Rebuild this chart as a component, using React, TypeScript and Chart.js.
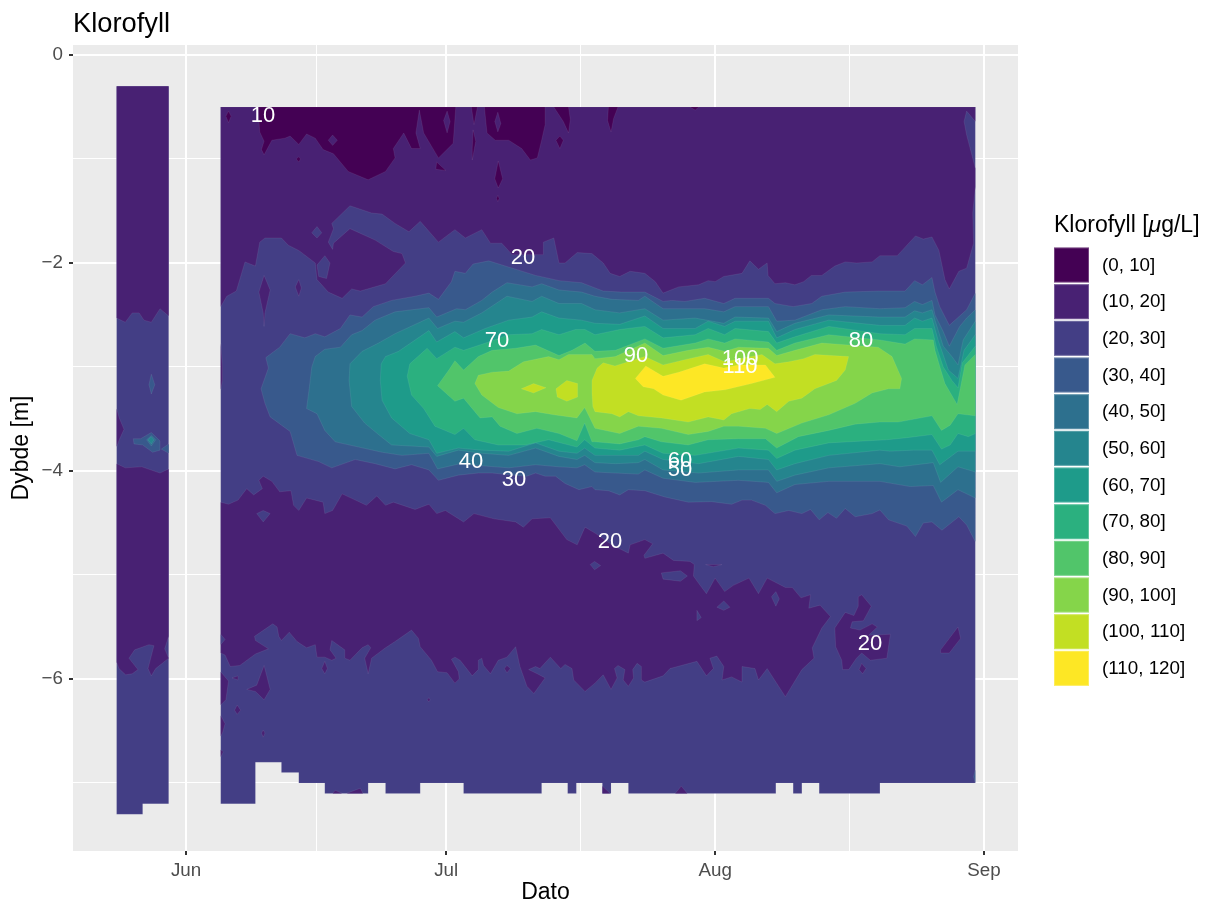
import React, { useEffect, useRef } from "react";
import { Chart, registerables } from "chart.js";

Chart.register(...registerables);

type Poly = number[][];

const FONT = '"Liberation Sans", Helvetica, Arial, sans-serif';

const legendLabels = ["(0, 10]", "(10, 20]", "(20, 30]", "(30, 40]", "(40, 50]", "(50, 60]", "(60, 70]", "(70, 80]", "(80, 90]", "(90, 100]", "(100, 110]", "(110, 120]"];
const bandColors = ["#440154", "#482173", "#433E85", "#38598C", "#2D708E", "#25858E", "#1E9B8A", "#2BB07F", "#51C56A", "#85D54A", "#C2DF23", "#FDE725"];

const xTickDays = [0, 15, 30, 45.5, 61, 76.5, 92];
const xTickNames = ["Jun", "", "Jul", "", "Aug", "", "Sep"];
const yTickDepths = [0, -1, -2, -3, -4, -5, -6, -7];
const yTickNames = ["0", "", "\u22122", "", "\u22124", "", "\u22126", ""];

// Contour labels: [value, day, depth]
const contourLabels: [string, number, number][] = [
  ["10", 8.88, -0.59], ["20", 38.85, -1.95], ["70", 35.85, -2.75], ["90", 51.88, -2.89],
  ["100", 63.87, -2.92], ["110", 63.87, -3.0], ["80", 77.82, -2.75], ["40", 32.86, -3.91],
  ["30", 37.81, -4.09], ["60", 56.95, -3.9], ["50", 56.95, -3.99], ["20", 48.88, -4.68], ["20", 78.86, -5.66],
];

// Sampled domains (day after 1 June, depth)
const stripDomain: Poly = [[-8, -0.3], [-2, -0.3], [-2, -7.2], [-5, -7.2], [-5, -7.3], [-8, -7.3]];
const mainDomain: Poly = [[4, -0.5], [91, -0.5], [91, -7], [80, -7], [80, -7.1], [73, -7.1], [73, -7], [71, -7], [71, -7.1], [70, -7.1], [70, -7], [68, -7], [68, -7.1], [51, -7.1], [51, -7], [49, -7], [49, -7.1], [48, -7.1], [48, -7], [45, -7], [45, -7.1], [44, -7.1], [44, -7], [41, -7], [41, -7.1], [32, -7.1], [32, -7], [27, -7], [27, -7.1], [23, -7.1], [23, -7], [21, -7], [21, -7.1], [16, -7.1], [16, -7], [13, -7], [13, -6.9], [11, -6.9], [11, -6.8], [8, -6.8], [8, -7.2], [4, -7.2]];

// 10-20 regions
const stripTop10: Poly = [[-8, -0.3], [-2, -0.3], [-2, -2.51], [-3, -2.44], [-4, -2.57], [-4.85, -2.55], [-5.4, -2.48], [-6.2, -2.48], [-7, -2.57], [-8, -2.53]];
const stripSliver10: Poly = [[-8, -3.4], [-7.7, -3.49], [-7.15, -3.6], [-7.7, -3.7], [-8, -3.77]];
const stripMid10: Poly = [[-8, -3.93], [-7, -3.97], [-5.1, -3.96], [-3, -4.02], [-2, -3.98], [-2, -5.59], [-2.46, -5.71], [-2, -5.8], [-3.5, -5.9], [-4, -5.97], [-4.38, -5.9], [-3.7, -5.68], [-4.27, -5.67], [-5.92, -5.72], [-6.58, -5.8], [-5.54, -5.91], [-6.2, -5.95], [-6.96, -5.96], [-7.73, -5.9], [-8, -5.84]];
const mainTop10: Poly = [[4, -0.5], [4, -2.42], [4.7, -2.32], [5.8, -2.27], [6.8, -1.99], [8, -2.03], [8.5, -1.8], [9.1, -1.76], [11, -1.76], [11.8, -1.83], [13, -1.88], [14.9, -2.0], [15.1, -2.16], [16.4, -2.28], [18, -2.34], [19.1, -2.25], [20.1, -2.27], [23, -2.2], [25.3, -2.0], [24.9, -1.91], [23.9, -1.89], [21.8, -1.78], [18.9, -1.67], [17, -1.81], [16.9, -1.87], [16.4, -1.8], [17, -1.67], [16.8, -1.62], [18.9, -1.45], [21.4, -1.52], [22.6, -1.53], [24.1, -1.62], [25.7, -1.7], [27, -1.6], [29.1, -1.8], [31, -1.68], [32.2, -1.76], [34.1, -1.68], [35.1, -1.81], [36.4, -1.81], [37.6, -1.92], [41.2, -1.92], [41.2, -1.8], [42.4, -1.76], [43, -2.0], [43.7, -2.0], [45.1, -1.9], [46.8, -1.91], [48.1, -2.0], [48.9, -2.1], [50, -2.13], [51.2, -2.08], [52.9, -2.1], [54.1, -2.18], [55, -2.29], [56.8, -2.23], [59.1, -2.21], [60.2, -2.17], [61, -2.18], [62, -2.13], [64.1, -2.1], [65, -1.98], [66, -2.06], [67, -2.0], [67.1, -2.12], [67.9, -2.2], [69.1, -2.19], [70.2, -2.21], [71.2, -2.18], [72.1, -2.12], [73.3, -2.12], [74.8, -2.03], [76, -1.99], [77.3, -2.0], [79.1, -1.99], [80, -1.93], [82, -1.93], [84.1, -1.74], [85, -1.77], [86, -1.75], [86.8, -1.88], [87.5, -2.16], [88, -2.25], [89.1, -2.08], [90, -2.05], [90.8, -1.81], [90.7, -1.52], [91, -1.27], [91, -1.09], [90, -0.77], [89.7, -0.64], [90, -0.54], [91, -0.64], [91, -0.5]];
const mainMid10: Poly = [[4, -4.3], [4.9, -4.32], [6, -4.28], [7, -4.17], [7.8, -4.23], [8.8, -4.17], [8.4, -4.09], [8.9, -4.05], [9.9, -4.1], [10.8, -4.2], [12.1, -4.19], [12.4, -4.33], [13, -4.38], [13.9, -4.26], [15.8, -4.3], [16, -4.41], [16.9, -4.38], [18, -4.22], [20.8, -4.33], [22, -4.24], [23, -4.33], [23.9, -4.3], [26.4, -4.37], [28, -4.32], [28.9, -4.41], [29.9, -4.38], [32, -4.49], [33.2, -4.41], [35.5, -4.46], [38, -4.49], [38.9, -4.54], [39.9, -4.46], [42, -4.45], [43.9, -4.66], [45.1, -4.71], [46, -4.54], [47.2, -4.6], [49.1, -4.71], [51, -4.79], [51.2, -4.71], [52.9, -4.66], [53.8, -4.7], [52.8, -4.81], [52.9, -4.84], [55, -4.79], [56.2, -4.86], [58.1, -4.87], [58.6, -4.9], [58.5, -5.01], [59.1, -5.08], [60, -5.18], [61, -5.03], [62.1, -5.16], [63.1, -5.1], [64.9, -5.03], [66, -5.18], [67, -5.03], [69.1, -5.12], [69.9, -5.12], [70.9, -5.22], [72, -5.19], [71.8, -5.32], [73.1, -5.29], [74.3, -5.4], [73.3, -5.51], [72.2, -5.7], [72.4, -5.8], [71, -5.91], [69.1, -6.17], [67, -5.9], [66, -6.01], [65.6, -5.9], [64.1, -5.88], [64.1, -6.03], [62.9, -5.98], [61.8, -6.01], [62, -5.88], [61.2, -5.78], [60.4, -5.8], [60.8, -5.9], [60, -5.97], [58.9, -5.83], [55.8, -5.9], [55, -5.97], [52.9, -6.03], [52.5, -6.01], [52.5, -5.88], [52, -5.85], [51.5, -5.91], [51.6, -5.99], [51, -6.07], [50.4, -6.01], [50.6, -5.91], [49.8, -5.87], [49.4, -5.9], [49.7, -5.99], [49, -6.1], [48.1, -5.96], [47.15, -6.04], [46, -6.12], [44.7, -6.01], [44.5, -5.9], [43.7, -5.86], [43.2, -5.9], [42, -5.79], [40.8, -5.9], [40.3, -5.88], [39.5, -5.91], [40.5, -5.95], [41.4, -5.99], [40.1, -6.14], [39.3, -6.07], [38.5, -5.88], [38, -5.69], [37, -5.79], [36, -5.82], [35.1, -5.95], [34.3, -5.87], [34.1, -5.8], [33.7, -5.82], [33.7, -5.91], [33, -5.97], [31.6, -5.82], [31, -5.79], [30.6, -5.81], [31.4, -5.93], [31.5, -6], [31, -6.04], [30.1, -5.94], [29, -5.93], [28.3, -5.82], [27, -5.69], [26.8, -5.61], [26, -5.53], [24.1, -5.64], [23, -5.7], [21.4, -5.8], [21, -5.95], [20.6, -5.8], [21.3, -5.7], [21, -5.67], [20.3, -5.7], [18.9, -5.82], [18.3, -5.8], [18.3, -5.72], [16.8, -5.63], [16.6, -5.72], [17.3, -5.8], [16.8, -5.82], [16, -5.79], [15.1, -5.79], [14.9, -5.67], [13.9, -5.7], [12.8, -5.64], [11.9, -5.55], [11, -5.63], [10.7, -5.59], [10.5, -5.5], [10, -5.47], [7.9, -5.59], [8, -5.63], [9.5, -5.71], [8, -5.76], [6.2, -5.87], [5.1, -5.88], [4.5, -5.77], [4, -5.75]];
const mainBlob10: Poly = [[74.8, -5.51], [76, -5.36], [77, -5.39], [77.5, -5.3], [77.5, -5.21], [77.9, -5.19], [79, -5.3], [78.1, -5.44], [76.8, -5.45], [76.6, -5.51], [77.7, -5.53], [79.1, -5.47], [79.7, -5.5], [78.7, -5.58], [81.2, -5.57], [80.8, -5.8], [78.9, -5.82], [77.9, -5.75], [77.3, -5.8], [76.4, -5.91], [75.7, -5.91], [75.6, -5.82], [74.9, -5.69]];
const islands10: Poly[] = [
  [[9, -2.12], [9.7, -2.26], [9.1, -2.48], [9, -2.61], [8.9, -2.48], [8.4, -2.28]],
  [[13, -2.16], [13.3, -2.24], [13, -2.32], [12.6, -2.23]],
  [[4, -2.77], [4.2, -2.99], [4.2, -3.13], [4, -3.22]],
  [[7, -6.1], [8.15, -6.06], [9, -5.87], [9.7, -6.1], [9, -6.2], [8, -6.12]],
  [[16, -5.83], [16.3, -5.9], [16, -5.95], [15.65, -5.9]],
  [[5.3, -5.99], [6, -5.97], [6, -6.01]],
  [[4, -5.93], [4.9, -6.02], [4.6, -6.2], [4, -6.25]],
  [[5.9, -6.25], [6.3, -6.3], [5.9, -6.34], [5.6, -6.3]],
  [[4, -6.35], [4.5, -6.43], [4.2, -6.52], [4, -6.55]],
  [[8.9, -6.49], [9.1, -6.52], [8.9, -6.56], [8.7, -6.52]],
  [[4, -6.68], [4.3, -6.7], [4, -6.75]],
  [[37, -5.87], [37.4, -5.9], [37, -5.94], [36.7, -5.9]],
  [[28, -6.18], [28.15, -6.2], [28, -6.22], [27.8, -6.2]],
  [[77.9, -5.85], [78.4, -5.9], [78, -5.95], [77.6, -5.91]],
  [[87, -5.72], [89, -5.5], [89.3, -5.61], [88, -5.75], [87, -5.75]],
  [[59.9, -4.9], [61.8, -4.9], [60.8, -4.92]],
  [[16.9, -7.1], [17.2, -7.07], [18, -7.1]],
  [[18.5, -7.1], [20.1, -7.05], [20.4, -7.1]],
  [[48, -7.03], [48.9, -7.1], [48, -7.1]],
  [[56.4, -7.1], [57.1, -7.03], [57.8, -7.1]],
];

// 20-30 inside the 10-20 regions
const holes20: Poly[] = [
  [[14.5, -1.71], [15.1, -1.65], [15.65, -1.71], [15.1, -1.76]],
  [[15.1, -2.02], [16, -1.93], [16.6, -2.0], [16.2, -2.15], [15.3, -2.13]],
  [[8.15, -4.41], [8.9, -4.38], [9.7, -4.41], [8.9, -4.49]],
  [[46.6, -4.9], [47.1, -4.87], [47.8, -4.91], [47.1, -4.95]],
  [[54.8, -4.98], [57, -4.96], [57.8, -5.01], [57, -5.06], [55, -5.04]],
  [[61.2, -5.31], [62, -5.25], [62.7, -5.31], [62, -5.34]],
  [[67.5, -5.21], [68, -5.16], [68.4, -5.23], [68, -5.3]],
  [[58.9, -5.34], [59.4, -5.41], [58.9, -5.44]],
  [[4, -5.57], [4.5, -5.62], [4, -5.67]],
];

// 0-10 patches
const patches0: Poly[] = [
  [[8.3, -0.5], [8.5, -0.74], [9, -0.83], [8.7, -0.91], [9, -0.96], [9.9, -0.82], [11.4, -0.8], [12, -0.78], [13, -0.86], [13.9, -0.76], [14.9, -0.8], [15.8, -0.91], [17, -0.95], [18.7, -1.12], [21, -1.2], [23, -1.12], [24.1, -0.99], [23.9, -0.9], [25.1, -0.75], [26, -0.9], [27, -0.9], [26.5, -0.75], [26.9, -0.53], [27.4, -0.75], [29.1, -0.99], [30.8, -0.85], [31.1, -0.5]],
  [[32.9, -0.5], [33.2, -0.67], [33.6, -0.5]],
  [[34.4, -0.5], [34.7, -0.75], [35.65, -0.82], [37.2, -0.82], [38.7, -0.9], [39.7, -1.01], [40.5, -0.99], [41, -0.82], [41.4, -0.67], [41.4, -0.5]],
  [[42.4, -0.5], [43.5, -0.64], [44.1, -0.75], [44.3, -0.62], [44.1, -0.5]],
  [[33.1, -0.72], [33, -0.9], [33, -1.01], [33.4, -0.83]],
  [[4.6, -0.59], [4.9, -0.54], [5.2, -0.59], [4.9, -0.65]],
  [[28.9, -1.03], [29.95, -1.11], [28.8, -1.1]],
  [[36, -1.02], [36.5, -1.19], [36, -1.28], [35.6, -1.19]],
  [[35.95, -1.35], [36.1, -1.38], [35.95, -1.41], [35.8, -1.38]],
  [[43.1, -0.78], [43.5, -0.82], [43.1, -0.9], [42.65, -0.82]],
  [[13, -0.98], [13.2, -1], [13, -1.03], [12.7, -1]],
  [[48.7, -0.5], [48.6, -0.63], [49, -0.74], [49.3, -0.61], [49.8, -0.5]],
  [[58.1, -0.5], [58.7, -0.53], [59.15, -0.5]],
];
const holes10InPatch: Poly[] = [
  [[16.4, -0.82], [16.9, -0.77], [17.45, -0.82], [16.9, -0.87]],
  [[30.1, -0.54], [30.45, -0.64], [30.1, -0.75], [29.7, -0.63]],
  [[35.95, -0.55], [36.3, -0.66], [35.95, -0.74], [35.6, -0.64]],
];

// Filled contour regions
const contour30: Poly = [[8.65, -3.21], [9.5, -3.01], [9.2, -2.91], [10.8, -2.81], [12, -2.68], [13.7, -2.72], [14.9, -2.68], [16, -2.71], [17.8, -2.63], [18.9, -2.5], [20.3, -2.52], [21.6, -2.42], [23.7, -2.36], [26.4, -2.32], [28, -2.29], [29.1, -2.35], [30.6, -2.18], [31, -2.08], [32.2, -2.1], [33.1, -2.01], [34.9, -1.98], [37.6, -2.05], [40.3, -2.12], [43, -2.17], [45.6, -2.19], [47.15, -2.24], [48.1, -2.27], [50.2, -2.28], [52.9, -2.28], [55, -2.37], [56, -2.36], [57.5, -2.37], [59.8, -2.34], [62, -2.39], [63.3, -2.34], [67.15, -2.34], [67.9, -2.39], [70, -2.42], [72.15, -2.39], [73.3, -2.32], [76, -2.28], [80, -2.27], [82.9, -2.27], [84, -2.17], [84.9, -2.21], [86, -2.14], [86.35, -2.28], [86.9, -2.42], [88, -2.6], [90, -2.45], [91, -2.29], [91, -4.68], [90, -4.52], [89.1, -4.44], [87.15, -4.57], [86, -4.49], [85, -4.5], [84.1, -4.63], [83.1, -4.53], [81, -4.47], [80, -4.375], [79.1, -4.41], [77.15, -4.44], [76, -4.36], [75, -4.455], [74, -4.4], [73, -4.47], [72, -4.37], [71, -4.41], [69.5, -4.38], [67.9, -4.41], [66.8, -4.33], [65.2, -4.28], [64.1, -4.28], [62.9, -4.32], [60.6, -4.295], [57.9, -4.3], [55.2, -4.25], [52.9, -4.19], [51, -4.18], [50, -4.23], [48.7, -4.19], [47.15, -4.18], [46.8, -4.15], [45.3, -4.18], [43.7, -4.12], [42.6, -4.05], [41.4, -4.05], [40.3, -4.02], [39.3, -4.05], [37.8, -4.04], [35.3, -4.02], [33.7, -4.02], [31.4, -4.04], [29.1, -4.09], [28, -3.99], [26, -3.94], [24.1, -3.98], [21.8, -3.93], [19.5, -3.89], [16.8, -3.97], [15.3, -3.91], [12.8, -3.85], [12, -3.62], [9.7, -3.48], [9.1, -3.35]];
const contour40: Poly = [[13.9, -3.4], [14.2, -3.21], [14.5, -3], [14.9, -2.9], [16, -2.83], [17.8, -2.81], [19.1, -2.69], [20.3, -2.65], [21.8, -2.55], [24.1, -2.47], [28, -2.43], [28.9, -2.52], [31.2, -2.44], [32.2, -2.45], [34.1, -2.36], [35.3, -2.28], [37, -2.19], [39.9, -2.23], [41, -2.2], [43, -2.26], [45.6, -2.28], [47.15, -2.32], [49.1, -2.35], [52.15, -2.36], [52.9, -2.32], [55, -2.44], [59.8, -2.44], [62, -2.47], [63.3, -2.42], [67.15, -2.42], [68.1, -2.56], [70.2, -2.55], [73.3, -2.45], [76, -2.42], [80, -2.44], [82.9, -2.43], [84, -2.37], [84.9, -2.4], [86, -2.36], [86.35, -2.5], [87.3, -2.66], [88, -2.8], [89.2, -2.61], [90, -2.53], [91, -2.45], [91, -4.26], [89, -4.18], [87.1, -4.3], [86.15, -4.14], [83.5, -4.15], [80, -4.1], [74.1, -4.1], [70.2, -4.13], [68.1, -4.21], [67.15, -4.11], [63.7, -4.09], [58.7, -4.11], [55, -4.07], [52.9, -3.99], [52.15, -4.03], [49.5, -4.02], [47.15, -4.01], [45.96, -3.94], [45.07, -3.97], [43, -3.96], [40.3, -3.94], [37.2, -3.97], [34.1, -3.95], [31.6, -3.93], [29, -3.98], [28, -3.83], [24.9, -3.85], [22.6, -3.82], [19.9, -3.77], [17.2, -3.72], [16, -3.61], [15.1, -3.45]];
const contour50: Poly = [[18.8, -3.13], [18.9, -2.97], [20.3, -2.85], [22.2, -2.77], [24.1, -2.68], [28, -2.53], [29, -2.63], [31, -2.56], [32, -2.57], [34.1, -2.48], [37, -2.32], [39.9, -2.37], [41, -2.32], [43, -2.39], [45.6, -2.39], [47.15, -2.45], [50, -2.48], [52.9, -2.44], [55, -2.55], [58.7, -2.53], [62, -2.58], [63.3, -2.52], [67.15, -2.53], [68.1, -2.66], [70.2, -2.58], [74.1, -2.5], [80, -2.52], [82.9, -2.52], [84, -2.46], [84.9, -2.48], [86, -2.45], [86.35, -2.55], [87.3, -2.8], [88.3, -2.9], [89, -2.98], [89.6, -2.74], [91, -2.56], [91, -4.01], [89, -3.96], [87, -4.11], [86.15, -3.92], [82.3, -3.96], [80, -3.93], [74.1, -3.97], [70.2, -4.04], [68.1, -4.1], [67.15, -3.99], [63.7, -3.99], [59.1, -4.02], [55, -3.99], [52.9, -3.89], [52.15, -3.92], [49.5, -3.93], [47.15, -3.92], [45.96, -3.85], [45.07, -3.89], [43, -3.86], [40.3, -3.78], [37.2, -3.85], [34.1, -3.83], [31.4, -3.8], [28.9, -3.86], [28, -3.77], [23.7, -3.75], [22.2, -3.65], [20.6, -3.54], [19.1, -3.38]];
const contour60: Poly = [[22.4, -3.13], [22.5, -2.97], [23, -2.9], [24.5, -2.85], [28, -2.65], [28.9, -2.76], [31, -2.66], [32, -2.72], [34.5, -2.63], [37.2, -2.55], [39.9, -2.52], [41, -2.47], [43, -2.53], [45.6, -2.55], [47.15, -2.58], [50, -2.59], [52.9, -2.51], [55, -2.63], [58.7, -2.63], [60.2, -2.56], [62.1, -2.61], [63.3, -2.56], [67.15, -2.56], [68.1, -2.72], [70.2, -2.64], [74.1, -2.55], [80, -2.6], [82.9, -2.6], [84, -2.53], [84.9, -2.56], [86, -2.53], [86.7, -2.74], [87.9, -3.03], [89, -3.11], [89.7, -2.84], [91, -2.69], [91, -3.81], [89, -3.81], [86.9, -3.94], [86, -3.8], [83.85, -3.8], [81.15, -3.81], [80, -3.8], [74.1, -3.85], [70.2, -3.93], [68.1, -3.99], [67.15, -3.89], [63.7, -3.86], [59.1, -3.93], [55, -3.89], [52.9, -3.81], [52.15, -3.85], [47.15, -3.85], [45.96, -3.78], [45.07, -3.83], [43, -3.81], [40.3, -3.73], [37.2, -3.81], [34.1, -3.8], [31.4, -3.78], [28.9, -3.83], [28, -3.7], [25.8, -3.64], [23.7, -3.49], [22.6, -3.32]];
const contour70: Poly = [[25.5, -3.09], [25.8, -2.97], [27.8, -2.82], [28.9, -2.92], [31, -2.81], [32, -2.84], [34.9, -2.76], [37.2, -2.69], [39.9, -2.68], [41, -2.64], [43, -2.69], [44.9, -2.64], [46, -2.64], [47.15, -2.69], [50, -2.64], [52.9, -2.61], [55, -2.72], [58.7, -2.69], [60.2, -2.63], [62.1, -2.69], [63.3, -2.63], [67.15, -2.66], [68.1, -2.77], [70.2, -2.71], [74.1, -2.61], [80, -2.68], [82.9, -2.69], [84, -2.63], [86, -2.63], [86.5, -2.8], [87.3, -3], [88.3, -3.13], [89, -3.2], [89.5, -2.96], [91, -2.8], [91, -3.64], [90.2, -3.67], [89, -3.64], [88.1, -3.75], [87.1, -3.79], [86, -3.65], [83.1, -3.68], [80.8, -3.7], [74.1, -3.73], [70.2, -3.8], [68.1, -3.88], [67.15, -3.8], [63.7, -3.78], [58.7, -3.85], [55, -3.83], [52.9, -3.75], [50, -3.8], [47.15, -3.78], [45.96, -3.7], [45.07, -3.77], [41.8, -3.7], [39.1, -3.75], [36, -3.75], [33.3, -3.7], [32, -3.59], [31, -3.65], [28.7, -3.57], [27.4, -3.4], [26, -3.27]];
const contour80: Poly = [[29, -3.18], [30.3, -3.03], [31, -2.94], [32, -3.03], [33.7, -2.9], [35.3, -2.84], [38, -2.82], [40.3, -2.79], [43, -2.89], [44.5, -2.84], [46, -2.77], [47.15, -2.85], [49.5, -2.84], [52.9, -2.73], [55, -2.82], [58.7, -2.77], [60.2, -2.73], [62.1, -2.77], [63.3, -2.73], [67.15, -2.76], [68.1, -2.84], [70.2, -2.77], [74.1, -2.69], [80, -2.74], [82.9, -2.78], [84, -2.73], [86.15, -2.74], [86.35, -2.84], [87.1, -3.05], [87.5, -3.16], [88.9, -3.36], [89.8, -2.98], [91, -2.88], [91, -3.47], [89, -3.45], [88.1, -3.56], [87.1, -3.61], [86, -3.47], [82.1, -3.53], [80, -3.53], [77.15, -3.55], [74.1, -3.61], [70.6, -3.67], [68.1, -3.78], [66.8, -3.69], [63.7, -3.69], [60.2, -3.7], [57.9, -3.75], [54.8, -3.72], [52.9, -3.67], [52.15, -3.7], [50, -3.74], [47.15, -3.72], [46.8, -3.72], [45.96, -3.54], [45.07, -3.71], [43, -3.64], [40.45, -3.59], [38.15, -3.64], [36.2, -3.57], [35.3, -3.48], [33.9, -3.49], [32, -3.3], [31, -3.33]];
const contour90: Poly = [[33.3, -3.16], [33.7, -3.08], [35.3, -3.05], [37.2, -3.04], [38.9, -2.95], [41.8, -2.9], [43, -2.93], [44.1, -2.88], [46.8, -2.88], [47.15, -2.92], [49.5, -2.9], [52.9, -2.77], [55, -2.89], [57.9, -2.84], [60.2, -2.81], [62.1, -2.85], [63.7, -2.81], [67.15, -2.82], [68.1, -2.89], [70.2, -2.84], [73.3, -2.77], [79.8, -2.81], [81.4, -2.9], [82.5, -3.11], [82.3, -3.21], [81, -3.21], [79.1, -3.25], [77.15, -3.35], [74.1, -3.46], [71, -3.54], [68.1, -3.64], [66.8, -3.59], [63.7, -3.57], [62, -3.57], [60.2, -3.62], [57.9, -3.65], [54.8, -3.59], [52.15, -3.57], [50, -3.64], [47.15, -3.59], [45.96, -3.39], [45.07, -3.49], [42.4, -3.46], [40.3, -3.43], [38.15, -3.45], [36, -3.39], [34.1, -3.27]];
const contour100: Poly = [[46.8, -3.13], [47.4, -3.01], [48.1, -2.96], [49.45, -2.99], [52.9, -2.9], [55, -2.98], [57.5, -2.93], [60.2, -2.88], [62.1, -2.95], [66.4, -2.88], [67.9, -2.97], [69.5, -2.95], [71.2, -2.92], [72.5, -2.88], [76.4, -2.9], [76, -3.03], [75, -3.13], [72.5, -3.21], [71, -3.3], [69.5, -3.33], [68.1, -3.43], [67, -3.36], [66.2, -3.41], [65, -3.4], [62.9, -3.45], [62, -3.51], [60.2, -3.48], [57.9, -3.53], [54.8, -3.49], [52.15, -3.47], [51, -3.43], [50, -3.48], [49.1, -3.45], [47.15, -3.43], [46.9, -3.38], [46.8, -3.25]];
const contour100a: Poly = [[38.65, -3.21], [40.07, -3.16], [41.5, -3.2], [40.07, -3.25]];
const contour100b: Poly = [[42.65, -3.21], [43.9, -3.13], [45.15, -3.16], [45.15, -3.29], [43.9, -3.33], [42.8, -3.29]];
const contour110: Poly = [[51.8, -3.11], [53, -2.99], [55, -3.09], [56.8, -3.05], [59.8, -2.97], [62, -3.01], [63.7, -2.98], [66.8, -2.98], [67.9, -3.1], [65.2, -3.16], [62.15, -3.22], [59.8, -3.24], [57.07, -3.32], [55, -3.27], [53.9, -3.21], [52.7, -3.19]];

// Small patches in the early strip and at the right edge
const strip30: Poly[] = [
  [[-4, -3.07], [-3.6, -3.17], [-4, -3.26], [-4.27, -3.17]],
  [[-6.08, -3.69], [-5.23, -3.69], [-4, -3.63], [-3, -3.71], [-3, -3.8], [-3.85, -3.82], [-5, -3.75], [-6, -3.74]],
  [[-2, -3.74], [-2.85, -3.79], [-2, -3.83]],
  [[91, -6.87], [90.8, -6.94], [91, -7]],
];
const strip40: Poly = [[-4.54, -3.7], [-4, -3.66], [-3.5, -3.7], [-4, -3.76]];
const strip50: Poly = [[-4.4, -3.7], [-4, -3.67], [-3.7, -3.7], [-4, -3.74]];

// Painting order: each later region lies over the earlier ones
const layers: [number, Poly][] = [
  [2, stripDomain], [2, mainDomain],
  [1, stripTop10], [1, stripSliver10], [1, stripMid10], [1, mainTop10], [1, mainMid10], [1, mainBlob10],
  ...islands10.map((p): [number, Poly] => [1, p]),
  ...holes20.map((p): [number, Poly] => [2, p]),
  ...patches0.map((p): [number, Poly] => [0, p]),
  ...holes10InPatch.map((p): [number, Poly] => [1, p]),
  ...strip30.map((p): [number, Poly] => [3, p]),
  [4, strip40], [5, strip50],
  [3, contour30], [4, contour40], [5, contour50], [6, contour60], [7, contour70], [8, contour80], [9, contour90],
  [10, contour100], [10, contour100a], [10, contour100b], [11, contour110],
];

const panelPlugin = {
  id: "panelBackground",
  beforeDraw(chart: any) {
    const { ctx, chartArea: a } = chart;
    ctx.save();
    ctx.fillStyle = "#EBEBEB";
    ctx.fillRect(a.left, a.top, a.right - a.left, a.bottom - a.top);
    ctx.restore();
  },
};

const contourLabelPlugin = {
  id: "contourLabels",
  afterDatasetsDraw(chart: any) {
    const { ctx, scales } = chart;
    ctx.save();
    ctx.font = `22px ${FONT}`;
    ctx.fillStyle = "#FFFFFF";
    ctx.textAlign = "center";
    ctx.textBaseline = "middle";
    contourLabels.forEach(([t, d, z]) => ctx.fillText(t, scales.x.getPixelForValue(d), scales.y.getPixelForValue(z)));
    ctx.restore();
  },
};

const legendPlugin = {
  id: "bandLegend",
  afterDraw(chart: any) {
    const { ctx } = chart;
    const left = 1054;
    const top = 247.5;
    const pitch = 36.67;
    ctx.save();
    ctx.textBaseline = "middle";
    ctx.textAlign = "left";
    ctx.fillStyle = "#000000";
    let x = left;
    const y = 226;
    ctx.font = `23px ${FONT}`;
    ctx.fillText("Klorofyll [", x, y);
    x += ctx.measureText("Klorofyll [").width;
    ctx.font = `italic 23px ${FONT}`;
    ctx.fillText("\u03BC", x, y);
    x += ctx.measureText("\u03BC").width;
    ctx.font = `23px ${FONT}`;
    ctx.fillText("g/L]", x, y);
    legendLabels.forEach((label, i) => {
      const ky = top + i * pitch;
      ctx.fillStyle = bandColors[i];
      ctx.fillRect(left, ky, 35, 35);
      ctx.strokeStyle = "rgba(255,255,255,0.25)";
      ctx.lineWidth = 1;
      ctx.strokeRect(left + 0.5, ky + 0.5, 34, 34);
      ctx.fillStyle = "#000000";
      ctx.font = `18.8px ${FONT}`;
      ctx.fillText(label, 1102, ky + 18);
    });
    ctx.restore();
  },
};

export default function App() {
  const ref = useRef<HTMLCanvasElement>(null);
  useEffect(() => {
    document.body.style.margin = "0";
    const chart = new Chart(ref.current as HTMLCanvasElement, {
      type: "scatter",
      data: {
        datasets: layers.map(([band, poly], i) => ({
          label: legendLabels[band],
          data: [...poly, poly[0]].map(([x, y]) => ({ x, y })),
          showLine: true,
          fill: "shape",
          backgroundColor: bandColors[band],
          borderColor: "rgba(255,255,255,0.1)",
          borderWidth: 0.7,
          borderDash: [100000, 1],
          pointRadius: 0,
          pointHoverRadius: 0,
          tension: 0,
          order: layers.length - i,
        })),
      } as any,
      options: {
        responsive: false,
        animation: false,
        events: [],
        layout: { padding: { right: 191, left: 0, top: 0, bottom: 0 } },
        plugins: {
          legend: { display: false },
          tooltip: { enabled: false },
          title: {
            display: true,
            text: "Klorofyll",
            align: "start",
            fullSize: false,
            color: "#000000",
            font: { family: FONT, size: 27.3, weight: "normal" },
            padding: { top: 8, bottom: 4.2 },
          },
        },
        scales: {
          x: {
            type: "linear",
            min: -13.03,
            max: 95.92,
            afterBuildTicks: (s: any) => { s.ticks = xTickDays.map((value) => ({ value })); },
            afterFit: (s: any) => { s.height = 55; },
            border: { display: false },
            grid: {
              color: "#FFFFFF",
              lineWidth: (c: any) => (c.index % 2 === 0 ? 2 : 1),
              tickColor: (c: any) => (c.index % 2 === 0 ? "#333333" : "rgba(0,0,0,0)"),
              tickLength: 4,
              tickWidth: 2,
            },
            ticks: {
              autoSkip: false,
              maxRotation: 0,
              padding: 5,
              color: "#4D4D4D",
              font: { family: FONT, size: 18.8 },
              callback: (_v: any, i: number) => xTickNames[i],
            },
            title: {
              display: true,
              text: "Dato",
              color: "#000000",
              font: { family: FONT, size: 23 },
              padding: { top: 0, bottom: 0 },
            },
          },
          y: {
            type: "linear",
            min: -7.654,
            max: 0.096,
            afterBuildTicks: (s: any) => { s.ticks = yTickDepths.map((value) => ({ value })); },
            afterFit: (s: any) => { s.width = 73; },
            border: { display: false },
            grid: {
              color: "#FFFFFF",
              lineWidth: (c: any) => (c.index % 2 === 0 ? 2 : 1),
              tickColor: (c: any) => (c.index % 2 === 0 ? "#333333" : "rgba(0,0,0,0)"),
              tickLength: 4,
              tickWidth: 2,
            },
            ticks: {
              autoSkip: false,
              padding: 6,
              color: "#4D4D4D",
              font: { family: FONT, size: 18.8 },
              callback: (_v: any, i: number) => yTickNames[i],
            },
            title: {
              display: true,
              text: "Dybde [m]",
              color: "#000000",
              font: { family: FONT, size: 23 },
              padding: { top: 8, bottom: 0 },
            },
          },
        },
      } as any,
      plugins: [panelPlugin, contourLabelPlugin, legendPlugin],
    });
    return () => chart.destroy();
  }, []);
  return <canvas ref={ref} width={1209} height={906} style={{ display: "block" }} />;
}
